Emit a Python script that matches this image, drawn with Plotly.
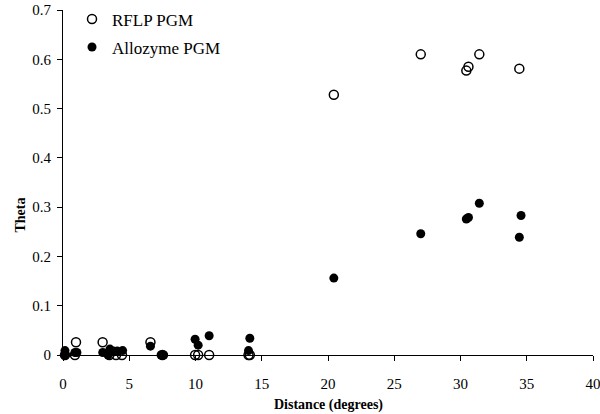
import plotly.graph_objects as go

# RFLP PGM (open circles)
rflp_x = [0.15, 0.9, 0.98, 2.99, 3.5, 4.0, 4.45, 6.6, 7.5, 9.97, 10.2, 11.03, 14.0, 14.1,
          20.44, 27.0, 30.44, 30.6, 31.42, 34.44]
rflp_y = [0.0, 0.0, 0.026, 0.026, 0.0, 0.0, 0.0, 0.026, 0.0, 0.0, 0.0, 0.0, 0.0, 0.0,
          0.528, 0.610, 0.577, 0.585, 0.610, 0.581]

# Allozyme PGM (filled circles)
allo_x = [0.15, 0.15, 0.9, 1.05, 3.0, 3.4, 3.54, 3.8, 4.1, 4.5, 6.6, 7.4, 7.6,
          9.97, 10.2, 11.03, 14.0, 14.1, 20.44, 27.0, 30.44, 30.6, 31.42, 34.44, 34.57]
allo_y = [0.009, 0.0, 0.005, 0.005, 0.005, 0.0, 0.012, 0.008, 0.008, 0.009, 0.018, 0.0, 0.0,
          0.032, 0.020, 0.039, 0.009, 0.034, 0.156, 0.246, 0.276, 0.279, 0.308, 0.239, 0.283]

x_ticks = [0, 5, 10, 15, 20, 25, 30, 35, 40]
y_ticks = [0, 0.1, 0.2, 0.3, 0.4, 0.5, 0.6, 0.7]
y_tick_text = ["0", "0.1", "0.2", "0.3", "0.4", "0.5", "0.6", "0.7"]

FONT = "Liberation Serif, Times New Roman, serif"

fig = go.Figure()
fig.add_trace(go.Scatter(
    x=rflp_x, y=rflp_y, mode="markers", name="RFLP PGM", legendgroup="a",
    marker=dict(symbol="circle-open", size=9, color="black", line=dict(width=1.5, color="black")),
    cliponaxis=False,
))
fig.add_trace(go.Scatter(
    x=allo_x, y=allo_y, mode="markers", name="Allozyme PGM", legendgroup="b",
    marker=dict(symbol="circle", size=9, color="black"),
    cliponaxis=False,
))

fig.update_layout(
    width=600, height=414,
    margin=dict(l=63, r=7, t=10, b=59, autoexpand=False),
    paper_bgcolor="white", plot_bgcolor="white",
    font=dict(family=FONT, size=15, color="black"),
    showlegend=True,
    legend=dict(x=0.017, y=1.025, xanchor="left", yanchor="top",
                font=dict(family=FONT, size=17, color="black"),
                bgcolor="rgba(0,0,0,0)", itemwidth=30,
                tracegroupgap=3, traceorder="grouped"),
    xaxis=dict(range=[0, 40], tickvals=x_ticks, ticks="outside", ticklen=5,
               tickwidth=1.2, tickcolor="black", showline=True, linecolor="black",
               linewidth=1.2, showgrid=False, zeroline=False, layer="below traces",
               automargin=False, ticklabelstandoff=10, ticklabeloverflow="allow",
               tickfont=dict(family=FONT, size=15)),
    yaxis=dict(range=[0, 0.7], tickvals=y_ticks, ticktext=y_tick_text, ticks="outside",
               ticklen=5, tickwidth=1.2, tickcolor="black", showline=True, linecolor="black",
               linewidth=1.2, showgrid=False, zeroline=False, layer="below traces",
               automargin=False, ticklabelstandoff=3, ticklabeloverflow="allow",
               tickfont=dict(family=FONT, size=15)),
    annotations=[
        dict(text="<b>Distance (degrees)</b>", xref="paper", yref="paper",
             x=0.5, y=-0.145, xanchor="center", yanchor="middle", showarrow=False,
             font=dict(family=FONT, size=14)),
        dict(text="<b>Theta</b>", xref="paper", yref="paper",
             x=-0.08, y=0.406, xanchor="center", yanchor="middle", showarrow=False,
             textangle=-90, font=dict(family=FONT, size=14)),
    ],
)

# remove the default 8px page margin so the 600x414 figure fills the window exactly
fig.write_html("out.html", config={"displayModeBar": False},
               post_script="document.body.style.margin='0';document.body.style.overflow='hidden';")
